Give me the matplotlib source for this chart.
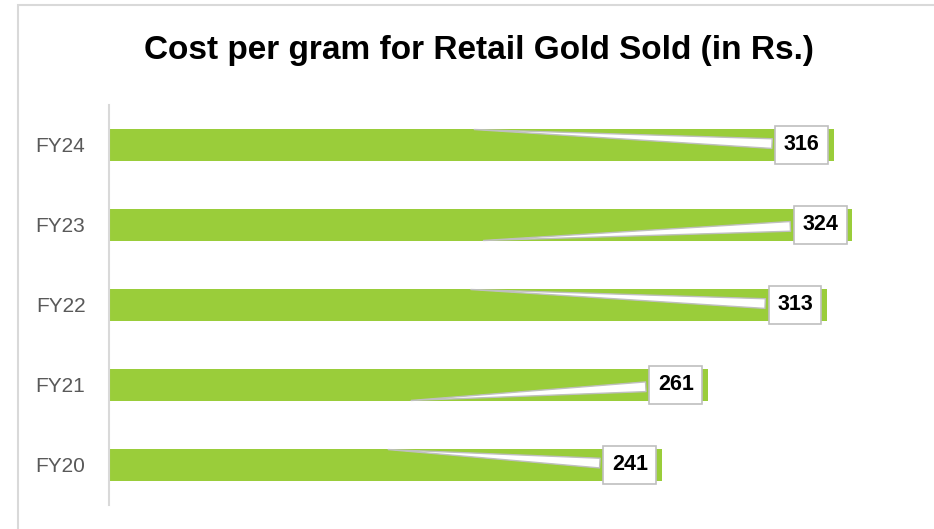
import matplotlib
matplotlib.use("Agg")
import matplotlib.pyplot as plt
from matplotlib.patches import Rectangle

# data, bottom to top
years = ["FY20", "FY21", "FY22", "FY23", "FY24"]
cost = [241, 261, 313, 324, 316]
# which edge of the bar the callout points to (+1 top, -1 bottom)
tip_side = [1, -1, 1, -1, 1]

W, H = 934, 529
fig = plt.figure(figsize=(W / 100, H / 100), dpi=100)

# light frame of the chart area
fig.patches.append(Rectangle((18 / W, -0.1), 1.2, (H - 5) / H + 0.1,
                             transform=fig.transFigure, fill=False,
                             edgecolor="#d9d9d9", linewidth=1.5))

ax = fig.add_axes([109 / W, 24 / H, 803 / W, 400 / H])
bar_h = 0.39
ypos = list(range(len(years)))
ax.barh(ypos, cost, height=bar_h, color="#9acd3a", zorder=2)

ax.set_xlim(0, 350)
ax.set_ylim(-0.5, len(years) - 0.5)
ax.set_yticks(ypos)
ax.set_yticklabels(years, fontsize=15, color="#595959",
                   family=["Liberation Sans", "DejaVu Sans"])
ax.tick_params(axis="y", length=0, pad=17)
ax.set_xticks([])
for s in ["top", "right", "bottom"]:
    ax.spines[s].set_visible(False)
ax.spines["left"].set_color("#d9d9d9")
ax.spines["left"].set_linewidth(1.5)

# data labels with callout wedges
for y, v, side in zip(ypos, cost, tip_side):
    ax.annotate(str(v), xy=(v / 2, y + side * bar_h / 2), xytext=(v - 14, y),
                ha="center", va="center", fontsize=15.5, fontweight="bold",
                family=["Liberation Sans", "DejaVu Sans"], color="black",
                bbox=dict(boxstyle="square,pad=0.4", fc="white",
                          ec="#bfbfbf", lw=1.2),
                arrowprops=dict(arrowstyle="wedge,tail_width=0.45",
                                fc="white", ec="#bfbfbf", lw=1.0),
                zorder=4)

fig.text(479 / W, 1 - 50 / H, "Cost per gram for Retail Gold Sold (in Rs.)",
         ha="center", va="center", fontsize=24, fontweight="bold",
         family=["Liberation Sans", "DejaVu Sans"])

fig.savefig("out.png", dpi=100, facecolor="white")
